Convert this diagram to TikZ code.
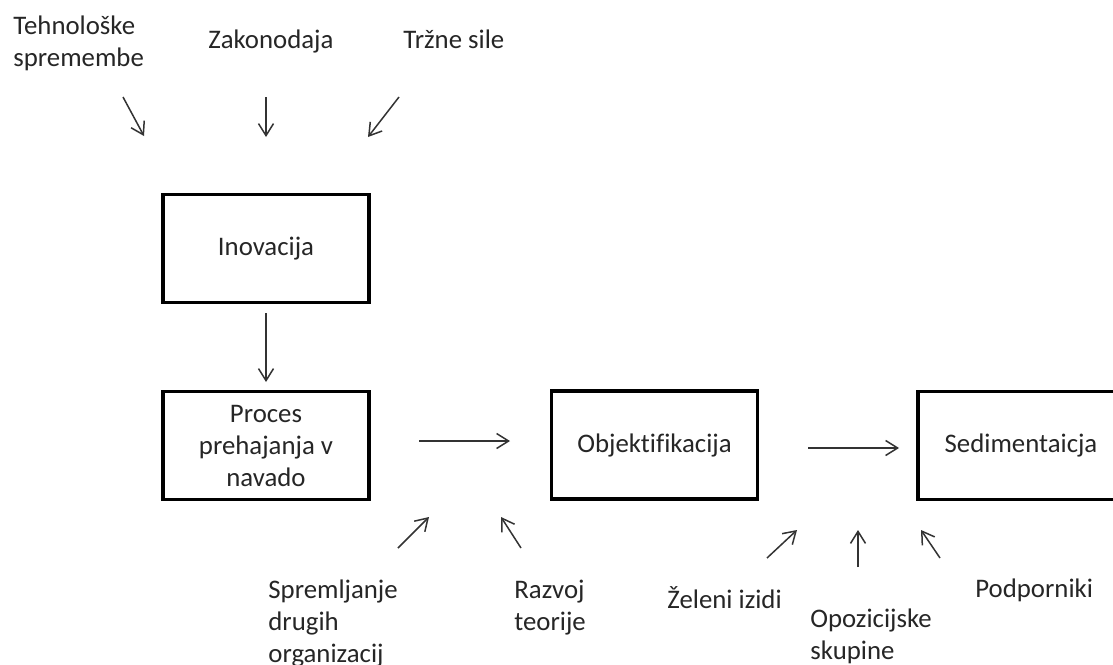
\documentclass[tikz,border=0pt]{standalone}
\usepackage{fontspec}
\setmainfont{Carlito}[Ligatures=NoCommon]
\usetikzlibrary{arrows.meta}
\newcommand{\lnsl}[1]{\begin{tabular}[t]{@{}l@{}}#1\end{tabular}}
\begin{document}
\begin{tikzpicture}[x=0.5pt,y=-0.5pt,
  every node/.style={font=\fontsize{13.4pt}{16pt}\selectfont, text=black!85},
  stagebox/.style={draw=black, line width=1.8pt, minimum width=103pt, minimum height=54pt, inner sep=0pt, outer sep=0pt, align=center},
  lbl/.style={anchor=base west, inner sep=0pt},
  arr/.style={draw=black!80, line width=0.75pt, -{Straight Barb[length=6pt,width=7.5pt,line width=0.75pt]}}]
\clip (0,0) rectangle (1113,664);
\fill[white] (0,0) rectangle (1113,664);
% boxes
\node[stagebox] (inov) at (266,248.5) {Inovacija};
\node[stagebox] (proc) at (266,445.5) {Proces\\prehajanja v\\navado};
\node[stagebox] (obj) at (654.5,445) {Objektifikacija};
\node[stagebox] (sed) at (1021,445.5) {Sedimentaicja};
% labels
\node[lbl] (teh) at (13,34) {\lnsl{Tehnološke\\spremembe}};
\node[lbl] (zak) at (208,48) {Zakonodaja};
\node[lbl] (trz) at (403,48) {Tržne sile};
\node[lbl] (spr) at (268,598) {\lnsl{Spremljanje\\drugih\\organizacij}};
\node[lbl] (raz) at (514,598) {\lnsl{Razvoj\\teorije}};
\node[lbl] (zel) at (667,608) {Želeni izidi};
\node[lbl] (opo) at (810,627) {\lnsl{Opozicijske\\skupine}};
\node[lbl] (pod) at (975,597) {Podporniki};
% arrow ends
\coordinate (t1s) at (123,97);  \coordinate (t1e) at (144,136);
\coordinate (t2s) at (266,97);  \coordinate (t2e) at (266,137);
\coordinate (t3s) at (399,97);  \coordinate (t3e) at (368,137);
\coordinate (ds) at (266,313);  \coordinate (de) at (266,382);
\coordinate (h1s) at (419,441); \coordinate (h1e) at (510,441);
\coordinate (h2s) at (808,448); \coordinate (h2e) at (899,448);
\coordinate (b1s) at (398,548); \coordinate (b1e) at (429,517);
\coordinate (b2s) at (521,548); \coordinate (b2e) at (501,517);
\coordinate (b3s) at (767,558); \coordinate (b3e) at (797,530);
\coordinate (b4s) at (858,567); \coordinate (b4e) at (858,530);
\coordinate (b5s) at (940,558); \coordinate (b5e) at (921,530);
% arrows
\draw[arr] (t1s) -- (t1e);
\draw[arr] (t2s) -- (t2e);
\draw[arr] (t3s) -- (t3e);
\draw[arr] (ds) -- (de);
\draw[arr] (h1s) -- (h1e);
\draw[arr] (h2s) -- (h2e);
\draw[arr] (b1s) -- (b1e);
\draw[arr] (b2s) -- (b2e);
\draw[arr] (b3s) -- (b3e);
\draw[arr] (b4s) -- (b4e);
\draw[arr] (b5s) -- (b5e);
\end{tikzpicture}
\end{document}
